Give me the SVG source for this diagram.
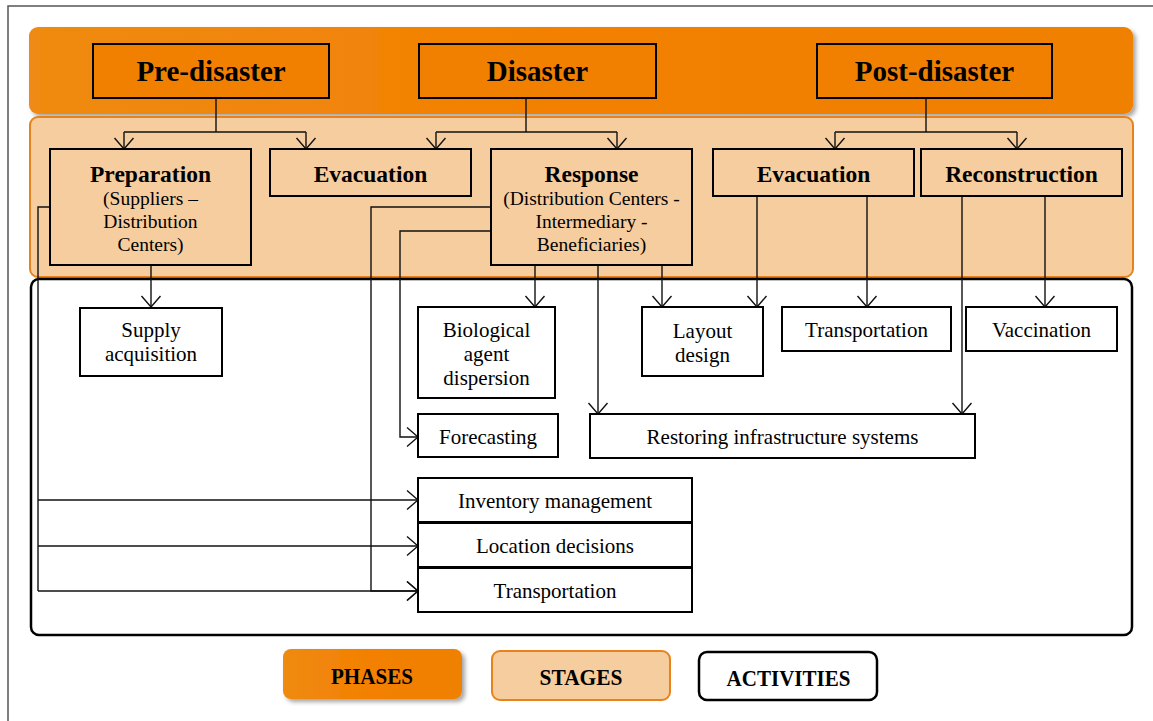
<svg xmlns="http://www.w3.org/2000/svg" width="1153" height="721" viewBox="0 0 1153 721">
  <style>
    .ph { font-family: "Liberation Serif", "Times New Roman", serif; font-weight: bold; font-size: 29px; fill: #000; text-anchor: middle; }
    .st { font-family: "Liberation Serif", "Times New Roman", serif; font-weight: bold; font-size: 23.5px; fill: #000; text-anchor: middle; }
    .sub { font-family: "Liberation Serif", "Times New Roman", serif; font-size: 19.5px; fill: #000; text-anchor: middle; }
    .ac { font-family: "Liberation Serif", "Times New Roman", serif; font-size: 21px; fill: #000; text-anchor: middle; }
    .lg { font-family: "Liberation Serif", "Times New Roman", serif; font-weight: bold; font-size: 24px; fill: #000; text-anchor: middle; }
    .phase-box { fill: #F28000; stroke: #000; stroke-width: 2; }
    .stage-box { fill: #F6CD9E; stroke: #000; stroke-width: 2; }
    .act-box { fill: #fff; stroke: #000; stroke-width: 2; }
    .wire { fill: none; stroke: #111; stroke-width: 1.4; }
    .arrow { fill: none; stroke: #111; stroke-width: 1.4; marker-end: url(#open); }
  </style>
  <defs>
    <marker id="open" viewBox="0 0 13 22" refX="12" refY="11" markerWidth="13" markerHeight="22" markerUnits="userSpaceOnUse" orient="auto">
      <path d="M1,1.5 L12,11 L1,20.5" fill="none" stroke="#111" stroke-width="1.4"/>
    </marker>
    <linearGradient id="phaseFill" x1="0" y1="0" x2="1" y2="0">
      <stop offset="0" stop-color="#EF8A12"/>
      <stop offset="0.5" stop-color="#F38000"/>
      <stop offset="1" stop-color="#F08000"/>
    </linearGradient>
    <filter id="shadow" x="-5%" y="-20%" width="112%" height="150%">
      <feDropShadow dx="3" dy="3" stdDeviation="2" flood-color="#000" flood-opacity="0.35"/>
    </filter>
  </defs>

  <rect width="1153" height="721" fill="#fff"/>
  <!-- page frame -->
  <rect x="8" y="6" width="1170" height="740" fill="none" stroke="#555" stroke-width="1.5"/>

  <!-- bands -->
  <g id="bands">
    <rect x="29" y="27" width="1104" height="87" rx="9" fill="url(#phaseFill)" filter="url(#shadow)"/>
    <rect x="30" y="117" width="1103" height="160" rx="8" fill="#F6CD9E" stroke="#E8821A" stroke-width="2"/>
    <rect x="31" y="279" width="1101" height="356" rx="8" fill="#fff" stroke="#000" stroke-width="2.5"/>
  </g>

  <!-- connectors -->
  <g id="connectors">
    <!-- phases to stages -->
    <path class="wire" d="M216,98 V132 M124,132 H306 M526,98 V132 M436,132 H617 M926,98 V132 M835,132 H1017"/>
    <path class="arrow" d="M124,132 V149"/>
    <path class="arrow" d="M306,132 V149"/>
    <path class="arrow" d="M436,132 V149"/>
    <path class="arrow" d="M617,132 V149"/>
    <path class="arrow" d="M835,132 V149"/>
    <path class="arrow" d="M1017,132 V149"/>

    <!-- preparation -->
    <path class="arrow" d="M151,265 V307"/>
    <path class="wire" d="M50,207 H38 V591"/>
    <path class="arrow" d="M38,500 H418"/>
    <path class="arrow" d="M38,546 H418"/>
    <path class="arrow" d="M38,591 H418"/>

    <!-- response -->
    <path class="arrow" d="M491,207 H371 V591 H418"/>
    <path class="arrow" d="M491,231 H400 V437 H418"/>
    <path class="arrow" d="M535,265 V307"/>
    <path class="arrow" d="M598,265 V414"/>
    <path class="arrow" d="M662,265 V307"/>

    <!-- post-disaster evacuation -->
    <path class="arrow" d="M757,196 V307"/>
    <path class="arrow" d="M867,196 V307"/>

    <!-- reconstruction -->
    <path class="arrow" d="M962,196 V414"/>
    <path class="arrow" d="M1045,196 V307"/>
  </g>

  <!-- phases -->
  <g id="phase-pre">
    <rect class="phase-box" x="93" y="44" width="236" height="54"/>
    <text class="ph" x="211" y="81">Pre-disaster</text>
  </g>
  <g id="phase-disaster">
    <rect class="phase-box" x="419" y="44" width="237" height="54"/>
    <text class="ph" x="537.5" y="81">Disaster</text>
  </g>
  <g id="phase-post">
    <rect class="phase-box" x="817" y="44" width="235" height="54"/>
    <text class="ph" x="934.5" y="81">Post-disaster</text>
  </g>

  <!-- stages -->
  <g id="stage-preparation">
    <rect class="stage-box" x="50" y="149" width="201" height="116"/>
    <text class="st" x="150.5" y="182">Preparation</text>
    <text class="sub" x="150.5" y="205">(Suppliers –</text>
    <text class="sub" x="150.5" y="228">Distribution</text>
    <text class="sub" x="150.5" y="251">Centers)</text>
  </g>
  <g id="stage-evacuation-pre">
    <rect class="stage-box" x="270" y="149" width="201" height="47"/>
    <text class="st" x="370.5" y="182">Evacuation</text>
  </g>
  <g id="stage-response">
    <rect class="stage-box" x="491" y="149" width="201" height="116"/>
    <text class="st" x="591.5" y="182">Response</text>
    <text class="sub" x="591.5" y="205">(Distribution Centers -</text>
    <text class="sub" x="591.5" y="228">Intermediary -</text>
    <text class="sub" x="591.5" y="251">Beneficiaries)</text>
  </g>
  <g id="stage-evacuation-post">
    <rect class="stage-box" x="713" y="149" width="201" height="47"/>
    <text class="st" x="813.5" y="182">Evacuation</text>
  </g>
  <g id="stage-reconstruction">
    <rect class="stage-box" x="921" y="149" width="201" height="47"/>
    <text class="st" x="1021.5" y="182">Reconstruction</text>
  </g>

  <!-- activities -->
  <g id="act-supply">
    <rect class="act-box" x="80" y="308" width="142" height="68"/>
    <text class="ac" x="151" y="337">Supply</text>
    <text class="ac" x="151" y="361">acquisition</text>
  </g>
  <g id="act-biological">
    <rect class="act-box" x="418" y="307" width="137" height="91"/>
    <text class="ac" x="486.5" y="337">Biological</text>
    <text class="ac" x="486.5" y="361">agent</text>
    <text class="ac" x="486.5" y="385">dispersion</text>
  </g>
  <g id="act-forecasting">
    <rect class="act-box" x="418" y="414" width="140" height="43"/>
    <text class="ac" x="488" y="444">Forecasting</text>
  </g>
  <g id="act-layout">
    <rect class="act-box" x="642" y="307" width="121" height="69"/>
    <text class="ac" x="702.5" y="338">Layout</text>
    <text class="ac" x="702.5" y="362">design</text>
  </g>
  <g id="act-transportation-post">
    <rect class="act-box" x="782" y="307" width="169" height="44"/>
    <text class="ac" x="866.5" y="337">Transportation</text>
  </g>
  <g id="act-vaccination">
    <rect class="act-box" x="966" y="307" width="151" height="44"/>
    <text class="ac" x="1041.5" y="337">Vaccination</text>
  </g>
  <g id="act-restoring">
    <rect class="act-box" x="590" y="414" width="385" height="44"/>
    <text class="ac" x="782.5" y="444">Restoring infrastructure systems</text>
  </g>
  <g id="act-inventory">
    <rect class="act-box" x="418" y="478" width="274" height="44"/>
    <text class="ac" x="555" y="508">Inventory management</text>
  </g>
  <g id="act-location">
    <rect class="act-box" x="418" y="523" width="274" height="44"/>
    <text class="ac" x="555" y="553">Location decisions</text>
  </g>
  <g id="act-transportation">
    <rect class="act-box" x="418" y="568" width="274" height="44"/>
    <text class="ac" x="555" y="598">Transportation</text>
  </g>

  <!-- legend -->
  <g id="legend-phases">
    <rect x="283" y="649" width="179" height="50" rx="8" fill="url(#phaseFill)" filter="url(#shadow)"/>
    <text class="lg" x="372" y="684" textLength="82" lengthAdjust="spacingAndGlyphs">PHASES</text>
  </g>
  <g id="legend-stages">
    <rect x="492" y="651" width="178" height="49" rx="8" fill="#F6CD9E" stroke="#E8821A" stroke-width="2"/>
    <text class="lg" x="581" y="685" textLength="83" lengthAdjust="spacingAndGlyphs">STAGES</text>
  </g>
  <g id="legend-activities">
    <rect x="699" y="652" width="178" height="48" rx="8" fill="#fff" stroke="#000" stroke-width="2.5"/>
    <text class="lg" x="788.5" y="686" textLength="124" lengthAdjust="spacingAndGlyphs">ACTIVITIES</text>
  </g>
</svg>
